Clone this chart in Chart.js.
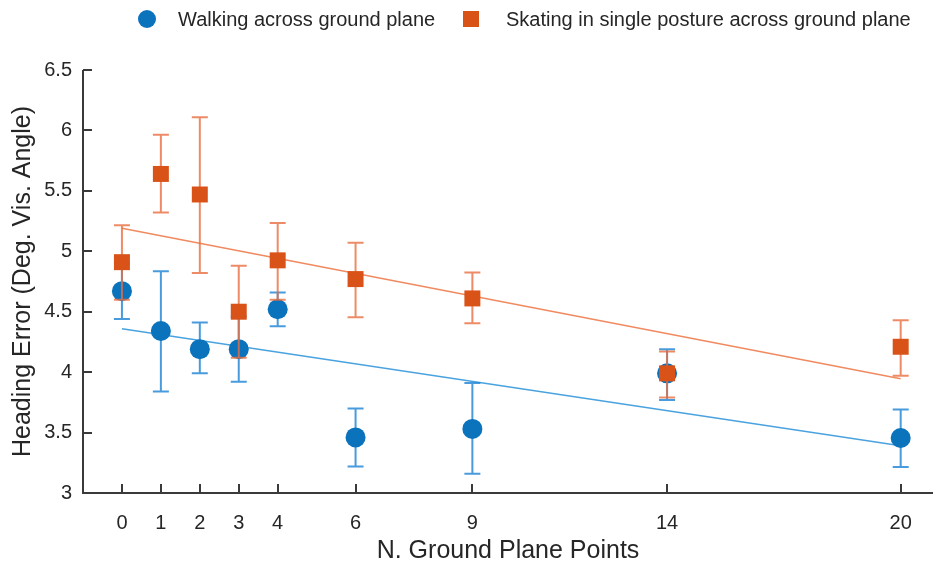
<!DOCTYPE html>
<html>
<head>
<meta charset="utf-8">
<script src="https://cdn.jsdelivr.net/npm/chart.js@4/dist/chart.umd.min.js"></script>
<style>
  html, body { margin: 0; padding: 0; background: #ffffff; overflow: hidden; }
  #wrap { width: 933px; height: 567px; }
</style>
</head>
<body>
<div id="wrap"><canvas id="chart" width="933" height="567"></canvas></div>
<script>
// Number of ground plane points used in each condition
const groundPoints = [0, 1, 2, 3, 4, 6, 9, 14, 20];

// Walking across ground plane: mean heading error and error bar limits
const walkMean = [4.67, 4.34, 4.19, 4.19, 4.52, 3.46, 3.53, 3.99, 3.455];
const walkLow  = [4.44, 3.84, 3.99, 3.92, 4.38, 3.22, 3.16, 3.77, 3.215];
const walkHigh = [4.90, 4.835, 4.41, 4.46, 4.66, 3.70, 3.91, 4.19, 3.69];

// Skating in single posture: mean heading error and error bar limits
const skateMean = [4.91, 5.64, 5.47, 4.50, 4.925, 4.77, 4.61, 3.99, 4.21];
const skateLow  = [4.60, 5.32, 4.82, 4.12, 4.60, 4.455, 4.405, 3.79, 3.97];
const skateHigh = [5.215, 5.965, 6.11, 4.88, 5.235, 5.07, 4.825, 4.17, 4.43];

// Linear fits (end points)
const fitX = [0, 20];
const walkFit = [4.36, 3.39];
const skateFit = [5.19, 3.945];

const yTicks = [3, 3.5, 4, 4.5, 5, 5.5, 6, 6.5];

const legendLabels = ['Walking across ground plane', 'Skating in single posture across ground plane'];
const xTitle = 'N. Ground Plane Points';
const yTitle = 'Heading Error (Deg. Vis. Angle)';

const BLUE = '#0b72bc';
const ORANGE = '#d95319';
const BLUE_BAR = 'rgba(40,138,214,0.85)';
const ORANGE_BAR = 'rgba(232,110,64,0.8)';
const BLUE_FIT = '#4aa3df';
const ORANGE_FIT = '#f08a60';
const AXIS = '#3a3a3a';
const TEXT = '#262626';
const FONT = "'Liberation Sans', Arial, Helvetica, sans-serif";

const toXY = (xs, ys) => xs.map((x, i) => ({ x: x, y: ys[i] }));

// Error bars, drawn just before each scatter series' markers
const errorSets = {
  2: { low: walkLow, high: walkHigh, color: BLUE_BAR },
  3: { low: skateLow, high: skateHigh, color: ORANGE_BAR }
};
const errorBarPlugin = {
  id: 'errorBars',
  beforeDatasetDraw(chart, args) {
    const set = errorSets[args.index];
    if (!set) return;
    const { ctx, scales: { x, y } } = chart;
    const cap = 8;
    ctx.save();
    ctx.strokeStyle = set.color;
    ctx.lineWidth = 2;
    groundPoints.forEach((g, i) => {
      const px = x.getPixelForValue(g);
      const top = y.getPixelForValue(set.high[i]);
      const bot = y.getPixelForValue(set.low[i]);
      ctx.beginPath();
      ctx.moveTo(px, top); ctx.lineTo(px, bot);
      ctx.moveTo(px - cap, top); ctx.lineTo(px + cap, top);
      ctx.moveTo(px - cap, bot); ctx.lineTo(px + cap, bot);
      ctx.stroke();
    });
    ctx.restore();
  }
};

// Left and bottom axis lines with inward tick marks
const axesPlugin = {
  id: 'inwardAxes',
  afterDraw(chart) {
    const { ctx, chartArea: a, scales: { x, y } } = chart;
    const len = 9;
    ctx.save();
    ctx.strokeStyle = AXIS;
    ctx.lineWidth = 2;
    ctx.beginPath();
    ctx.moveTo(a.left, a.top);
    ctx.lineTo(a.left, a.bottom);
    ctx.lineTo(a.right, a.bottom);
    ctx.stroke();
    ctx.beginPath();
    yTicks.forEach(v => {
      const py = Math.round(y.getPixelForValue(v));
      ctx.moveTo(a.left, py); ctx.lineTo(a.left + len, py);
    });
    groundPoints.forEach(v => {
      const px = Math.round(x.getPixelForValue(v));
      ctx.moveTo(px, a.bottom); ctx.lineTo(px, a.bottom - len);
    });
    ctx.stroke();
    ctx.restore();
  }
};

// Legend row above the plot
const legendPlugin = {
  id: 'topLegend',
  afterDraw(chart) {
    const { ctx } = chart;
    const cy = 19;
    ctx.save();
    ctx.font = '20px ' + FONT;
    ctx.textBaseline = 'middle';
    ctx.textAlign = 'left';
    // walking marker
    ctx.fillStyle = BLUE;
    ctx.beginPath();
    ctx.arc(147, cy, 9, 0, Math.PI * 2);
    ctx.fill();
    ctx.fillStyle = TEXT;
    ctx.fillText(legendLabels[0], 178, cy + 1);
    // skating marker
    ctx.fillStyle = ORANGE;
    ctx.fillRect(471 - 8, cy - 8, 16, 16);
    ctx.fillStyle = TEXT;
    ctx.fillText(legendLabels[1], 506, cy + 1);
    ctx.restore();
  }
};

new Chart(document.getElementById('chart'), {
  type: 'scatter',
  data: {
    datasets: [
      {
        type: 'line', label: 'Walking fit', data: toXY(fitX, walkFit),
        borderColor: BLUE_FIT, borderWidth: 1.5, pointRadius: 0, fill: false, order: 4
      },
      {
        type: 'line', label: 'Skating fit', data: toXY(fitX, skateFit),
        borderColor: ORANGE_FIT, borderWidth: 1.5, pointRadius: 0, fill: false, order: 3
      },
      {
        label: legendLabels[0], data: toXY(groundPoints, walkMean),
        pointStyle: 'circle', pointRadius: 10, pointHoverRadius: 10,
        backgroundColor: BLUE, borderWidth: 0, order: 2
      },
      {
        label: legendLabels[1], data: toXY(groundPoints, skateMean),
        pointStyle: 'rect', pointRadius: 11.3, pointHoverRadius: 11.3,
        backgroundColor: ORANGE, borderWidth: 0, order: 1
      }
    ]
  },
  options: {
    responsive: false,
    animation: false,
    events: [],
    layout: { autoPadding: false, padding: { top: 70, right: 0, bottom: 0, left: 0 } },
    plugins: { legend: { display: false }, tooltip: { enabled: false } },
    scales: {
      x: {
        type: 'linear', min: -1, max: 20.83,
        grid: { display: false, drawTicks: false },
        border: { display: false },
        afterBuildTicks: s => { s.ticks = groundPoints.map(v => ({ value: v })); },
        afterFit: s => { s.height = 74; s.paddingLeft = 0; s.paddingRight = 0; },
        ticks: {
          autoSkip: false, maxRotation: 0, padding: 18, color: TEXT,
          font: { family: FONT, size: 20 },
          callback: v => String(v)
        },
        title: {
          display: true, text: xTitle, color: TEXT,
          font: { family: FONT, size: 25 }, padding: { top: 0, bottom: 1 }
        }
      },
      y: {
        type: 'linear', min: 3, max: 6.5,
        grid: { display: false, drawTicks: false },
        border: { display: false },
        afterBuildTicks: s => { s.ticks = yTicks.map(v => ({ value: v })); },
        afterFit: s => { s.width = 83; },
        ticks: {
          padding: 11, color: TEXT,
          font: { family: FONT, size: 20 },
          callback: v => String(v)
        },
        title: {
          display: true, text: yTitle, color: TEXT,
          font: { family: FONT, size: 25 }, padding: { top: 8, bottom: 0 }
        }
      }
    }
  },
  plugins: [errorBarPlugin, axesPlugin, legendPlugin]
});
</script>
</body>
</html>
